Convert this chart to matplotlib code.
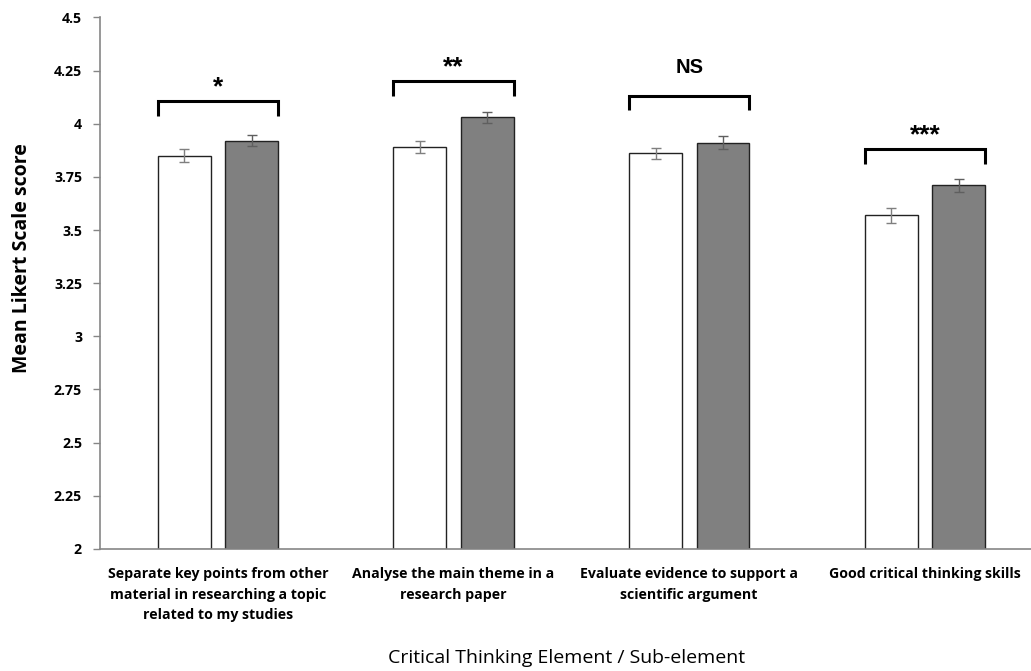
import matplotlib
matplotlib.use("Agg")
import matplotlib.pyplot as plt
import numpy as np

categories = [
    "Separate key points from other\nmaterial in researching a topic\nrelated to my studies",
    "Analyse the main theme in a\nresearch paper",
    "Evaluate evidence to support a\nscientific argument",
    "Good critical thinking skills",
]
series_a = [3.85, 3.89, 3.86, 3.57]
series_a_err = [0.03, 0.03, 0.027, 0.035]
series_b = [3.92, 4.03, 3.91, 3.71]
series_b_err = [0.027, 0.027, 0.03, 0.032]
sig_labels = ["*", "**", "NS", "***"]
bracket_tops = [4.106, 4.199, 4.131, 3.880]
yticks = [2, 2.25, 2.5, 2.75, 3, 3.25, 3.5, 3.75, 4, 4.25, 4.5]
ytick_labels = ["2", "2.25", "2.5", "2.75", "3", "3.25", "3.5", "3.75", "4", "4.25", "4.5"]

plt.rcParams['font.family'] = ['Open Sans', 'DejaVu Sans']

fig = plt.figure(figsize=(10.31, 6.71), dpi=100)
ax = fig.add_axes([0.097, 0.182, 0.903, 0.792])

x = np.arange(len(categories))
w = 0.224
off = 0.143
ax.bar(x - off, np.array(series_a) - 2, w, bottom=2, color="white",
       edgecolor="#222222", linewidth=1.0, zorder=2)
ax.bar(x + off, np.array(series_b) - 2, w, bottom=2, color="#808080",
       edgecolor="#222222", linewidth=1.0, zorder=2)
ax.errorbar(x - off, series_a, yerr=series_a_err, fmt="none", ecolor="#7f7f7f",
            elinewidth=1.0, capsize=3.5, capthick=1.0, zorder=3)
ax.errorbar(x + off, series_b, yerr=series_b_err, fmt="none", ecolor="#5f5f5f",
            elinewidth=1.0, capsize=3.5, capthick=1.0, zorder=3)

drop = 0.068
for i, (lab, top) in enumerate(zip(sig_labels, bracket_tops)):
    xl = x[i] - off - w / 2
    xr = x[i] + off + w / 2
    ax.plot([xl, xl, xr, xr], [top - drop, top, top, top - drop], color="black",
            linewidth=2.2, solid_capstyle="butt", solid_joinstyle="miter", zorder=4)
    if lab == "NS":
        ax.text(x[i], top + 0.135, lab, ha="center", va="center", fontsize=14.5,
                fontweight="bold", family=["Liberation Sans", "DejaVu Sans"])
    else:
        ax.text(x[i], top + 0.01, lab, ha="center", va="bottom", fontsize=19,
                fontweight="bold", family=["Liberation Sans", "DejaVu Sans"])

ax.set_xlim(-0.5, 3.45)
ax.set_ylim(2, 4.5)
ax.set_yticks(yticks)
ax.set_yticklabels(ytick_labels, fontsize=10.2, fontweight="bold")
ax.set_xticks(x)
ax.set_xticklabels(categories, fontsize=10.2, fontweight="bold", linespacing=1.6)
ax.tick_params(axis="x", length=0, pad=13)
ax.tick_params(axis="y", length=5, width=1, color="#868686", pad=8)

for s in ["top", "right"]:
    ax.spines[s].set_visible(False)
for s in ["left", "bottom"]:
    ax.spines[s].set_color("#868686")
    ax.spines[s].set_linewidth(1.2)

fig.text(0.021, 0.615, "Mean Likert Scale score", rotation=90, ha="center",
         va="center", fontsize=14, fontweight="bold")
fig.text(0.55, 0.019, "Critical Thinking Element / Sub-element", ha="center",
         va="center", fontsize=14)

fig.savefig("out.png", dpi=100)
